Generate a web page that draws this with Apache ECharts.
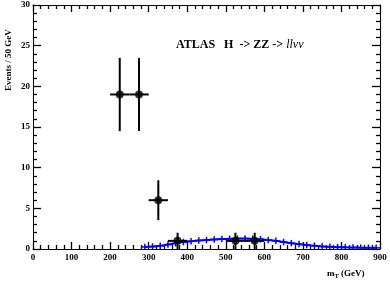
<!DOCTYPE html>
<html><head><meta charset="utf-8">
<script src="https://cdn.jsdelivr.net/npm/echarts@6/dist/echarts.min.js"></script>
<style>html,body{margin:0;padding:0;background:#fff}#c{width:390px;height:284px}</style>
</head><body><div id="c"></div>
<script>
// Data
const dataX = [225, 275, 325, 375, 525, 575];
const dataY = [19, 19, 6, 1, 1, 1];
const dataErr = [4.5, 4.5, 2.45, 1, 1, 1];
const dataBinHalf = 25;

const bgX = [290,310,330,350,370,390,410,430,450,470,490,510,530,550,570,590,610,630,650,670,690,710,730,750,770,790,810,830,850,870,890];
const bgY = [0.25,0.3,0.4,0.55,0.7,0.85,0.95,1.05,1.1,1.17,1.22,1.25,1.28,1.28,1.25,1.2,1.1,1.0,0.85,0.72,0.6,0.48,0.4,0.32,0.27,0.23,0.2,0.18,0.16,0.15,0.14];
const bgErr = [0.4,0.4,0.4,0.4,0.4,0.4,0.4,0.4,0.4,0.4,0.4,0.4,0.4,0.4,0.4,0.4,0.4,0.4,0.4,0.4,0.4,0.4,0.4,0.4,0.4,0.4,0.4,0.4,0.4,0.4,0.4];
const bgBinHalf = 10;

const xTicks = [0,100,200,300,400,500,600,700,800,900];
const yTicks = [0,5,10,15,20,25,30];

const FONT = '"Liberation Serif", "DejaVu Serif", serif';
const chart = echarts.init(document.getElementById('c'));

function errRender(color, lw, halfW) {
  return function (params, api) {
    const x = api.value(0), y = api.value(1), e = api.value(2);
    const pL = api.coord([x - halfW, y]);
    const pR = api.coord([x + halfW, y]);
    const pT = api.coord([x, y + e]);
    const pB = api.coord([x, Math.max(0, y - e)]);
    const style = { stroke: color, lineWidth: lw };
    return {
      type: 'group',
      children: [
        { type: 'line', shape: { x1: pL[0], y1: pL[1], x2: pR[0], y2: pR[1] }, style },
        { type: 'line', shape: { x1: pT[0], y1: pT[1], x2: pB[0], y2: pB[1] }, style }
      ]
    };
  };
}

const axisCommon = {
  type: 'value',
  axisLine: { show: true, onZero: false, lineStyle: { color: '#000', width: 1 } },
  splitLine: { show: false },
  minorSplitLine: { show: false }
};
const tickStyle = { color: '#000', width: 1.3 };

chart.setOption({
  animation: false,
  grid: { left: 33, right: 10, top: 5, bottom: 35 },
  xAxis: [
    Object.assign({}, axisCommon, {
      min: 0, max: 900, interval: 100, position: 'bottom',
      axisTick: { inside: true, length: 7, lineStyle: tickStyle },
      minorTick: { show: true, splitNumber: 5, length: 4, lineStyle: tickStyle },
      axisLabel: { color: '#000', fontFamily: FONT, fontWeight: 'bold', fontSize: 9, margin: 4,
        formatter: v => xTicks.includes(v) ? String(v) : '' }
    }),
    Object.assign({}, axisCommon, {
      min: 0, max: 900, interval: 100, position: 'top',
      axisTick: { inside: true, length: 7, lineStyle: tickStyle },
      minorTick: { show: true, splitNumber: 5, length: 4, lineStyle: tickStyle },
      axisLabel: { show: false }
    })
  ],
  yAxis: [
    Object.assign({}, axisCommon, {
      min: 0, max: 30, interval: 5, position: 'left',
      axisTick: { inside: true, length: 8, lineStyle: tickStyle },
      minorTick: { show: true, splitNumber: 5, length: 4, lineStyle: tickStyle },
      axisLabel: { color: '#000', fontFamily: FONT, fontWeight: 'bold', fontSize: 9, margin: 3,
        formatter: v => yTicks.includes(v) ? String(v) : '' }
    }),
    Object.assign({}, axisCommon, {
      min: 0, max: 30, interval: 5, position: 'right',
      axisTick: { inside: true, length: 8, lineStyle: tickStyle },
      minorTick: { show: true, splitNumber: 5, length: 4, lineStyle: tickStyle },
      axisLabel: { show: false }
    })
  ],
  series: [
    {
      type: 'line', smooth: 0.4, symbol: 'none',
      data: bgX.map((x, i) => [x, bgY[i]]),
      lineStyle: { color: '#0000ff', width: 2 }, z: 3
    },
    {
      type: 'custom', renderItem: errRender('#0000ff', 1.5, bgBinHalf),
      data: bgX.map((x, i) => [x, bgY[i], bgErr[i]]), z: 3
    },
    {
      type: 'custom', renderItem: errRender('#000', 2, dataBinHalf),
      data: dataX.map((x, i) => [x, dataY[i], dataErr[i]]), z: 4
    },
    {
      type: 'scatter', symbol: 'circle', symbolSize: 8,
      data: dataX.map((x, i) => [x, dataY[i]]),
      itemStyle: { color: '#000' }, z: 5
    }
  ],
  graphic: [
    {
      type: 'text', left: 176, top: 39,
      style: {
        text: '{b|ATLAS   H  -> ZZ -> }{i|llνν}',
        rich: {
          b: { fontFamily: FONT, fontWeight: 'bold', fontSize: 12, fill: '#000' },
          i: { fontFamily: FONT, fontStyle: 'italic', fontSize: 12, fill: '#000' }
        }
      }
    },
    {
      type: 'text', x: 4, y: 91, rotation: Math.PI / 2,
      style: { text: 'Events / 50 GeV', fontFamily: FONT, fontWeight: 'bold', fontSize: 9, fill: '#000' }
    },
    {
      type: 'text', left: 327, top: 269,
      style: {
        text: '{m|m}{s|T}{m| (GeV)}',
        rich: {
          m: { fontFamily: FONT, fontWeight: 'bold', fontSize: 9, fill: '#000' },
          s: { fontFamily: FONT, fontWeight: 'bold', fontSize: 6.5, fill: '#000', padding: [6, 0, 0, 0] }
        }
      }
    }
  ]
});
</script></body></html>
